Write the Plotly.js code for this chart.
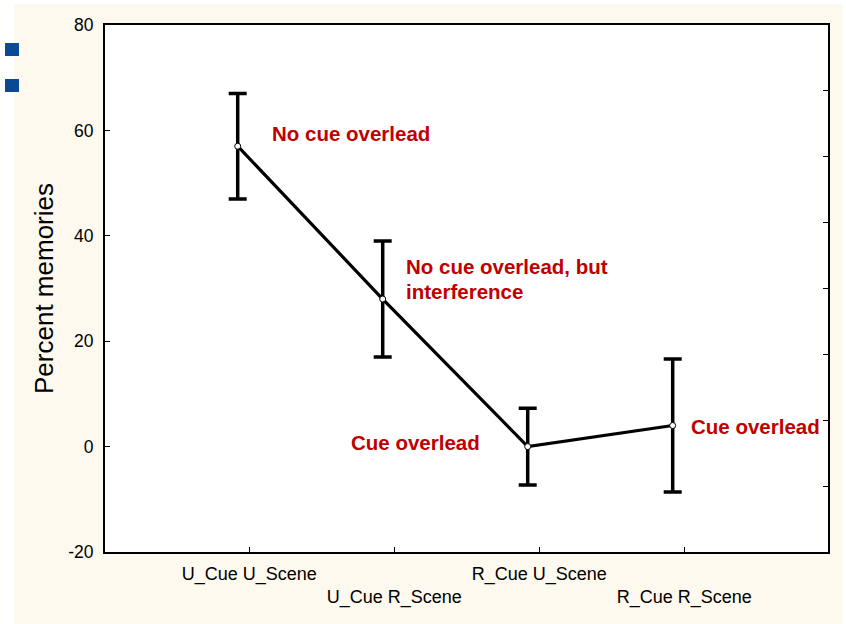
<!DOCTYPE html>
<html>
<head>
<meta charset="utf-8">
<script src="https://cdn.plot.ly/plotly-3.0.1.min.js"></script>
<style>html,body{margin:0;padding:0;background:#fff;}#chart{width:846px;height:624px;}</style>
</head>
<body>
<div id="chart"></div>
<script>
const categories = ["U_Cue U_Scene", "U_Cue R_Scene", "R_Cue U_Scene", "R_Cue R_Scene"];
const means = [57, 28, 0, 4];
const errors = [10, 11, 7.3, 12.6];
const yTicks = [-20, 0, 20, 40, 60, 80];
const yTickText = ["-20", "0", "20", "40", "60", "80"];
const rightTicks = [-7.5, 5, 17.5, 30, 42.5, 55, 67.5];
const noteTexts = ["No cue overlead", "No cue overlead, but", "interference", "Cue overlead", "Cue overlead"];
const noteX = [0.22, 1.15, 1.15, 0.765, 3.11];
const noteY = [59.5, 34.1, 29.4, 0.7, 3.9];

const W = 846, H = 624;
const L = 105, R = 828, T = 25, B = 552;
const px = x => (x - L) / (R - L);
const py = y => (B - y) / (B - T);

const xIdx = categories.map((c, i) => i);
const trace = {
  x: xIdx, y: means, type: 'scatter', mode: 'lines+markers',
  line: {color: '#000', width: 3.2},
  marker: {size: 6, color: '#fff', line: {color: '#000', width: 1}},
  error_y: {type: 'data', array: errors, visible: true, color: '#000', thickness: 3.5, width: 9},
  showlegend: false, hoverinfo: 'skip'
};
const trace2 = {x: [0], y: [0], yaxis: 'y2', mode: 'markers', marker: {opacity: 0}, showlegend: false, hoverinfo: 'skip'};

const cream = '#FDF9EE';
const shapes = [
  {type: 'rect', xref: 'paper', yref: 'paper', x0: px(-10), x1: px(14), y0: py(H + 10), y1: py(-10), fillcolor: '#fff', line: {width: 0}},
  {type: 'rect', xref: 'paper', yref: 'paper', x0: px(-10), x1: px(W + 10), y0: py(4), y1: py(-10), fillcolor: '#fff', line: {width: 0}},
  {type: 'rect', xref: 'paper', yref: 'paper', x0: px(843), x1: px(W + 10), y0: py(H + 10), y1: py(-10), fillcolor: '#fff', line: {width: 0}},
  {type: 'rect', xref: 'paper', yref: 'paper', x0: px(5), x1: px(19), y0: py(56), y1: py(43), fillcolor: '#0A4A94', line: {width: 0}},
  {type: 'rect', xref: 'paper', yref: 'paper', x0: px(5), x1: px(19), y0: py(92), y1: py(79), fillcolor: '#0A4A94', line: {width: 0}}
];

const annotations = noteTexts.map((t, i) => ({
  text: t, x: noteX[i], y: noteY[i], xref: 'x', yref: 'y', showarrow: false,
  xanchor: 'left', yanchor: 'middle',
  font: {family: 'Liberation Sans, Arial, sans-serif', size: 20.5, color: '#C00000', weight: 'bold'}
}));

const layout = {
  width: W, height: H,
  margin: {l: L, r: W - R, t: T, b: H - B, pad: 0},
  paper_bgcolor: cream, plot_bgcolor: '#fff',
  font: {family: 'Liberation Sans, Arial, sans-serif', color: '#000'},
  xaxis: {
    range: [(L - 237.7) / 145, (R - 237.7) / 145],
    tickvals: xIdx.map(i => i + 0.08),
    ticktext: categories.map((c, i) => i % 2 === 0 ? c : '<br>' + c),
    ticks: 'inside', ticklen: 5, tickwidth: 1, tickcolor: '#000',
    showline: true, linecolor: '#000', linewidth: 2, mirror: true,
    showgrid: false, zeroline: false,
    tickfont: {size: 18, color: '#000'}, ticklabelstandoff: 4
  },
  yaxis: {
    range: [-20, 80], tickvals: yTicks, ticktext: yTickText,
    ticks: 'inside', ticklen: 5, tickwidth: 1, tickcolor: '#000',
    showline: true, linecolor: '#000', linewidth: 2,
    showgrid: false, zeroline: false,
    tickfont: {size: 17.5, color: '#000'}, ticklabelstandoff: 6,
    title: {text: 'Percent memories', font: {size: 26, color: '#000'}, standoff: 7}
  },
  yaxis2: {
    overlaying: 'y', side: 'right', range: [-20, 80], tickvals: rightTicks,
    ticks: 'inside', ticklen: 5, tickwidth: 1, tickcolor: '#000',
    showticklabels: false, showline: true, linecolor: '#000', linewidth: 2,
    showgrid: false, zeroline: false
  },
  shapes: shapes,
  annotations: annotations
};

Plotly.newPlot('chart', [trace, trace2], layout, {staticPlot: true, displayModeBar: false});
</script>
</body>
</html>
